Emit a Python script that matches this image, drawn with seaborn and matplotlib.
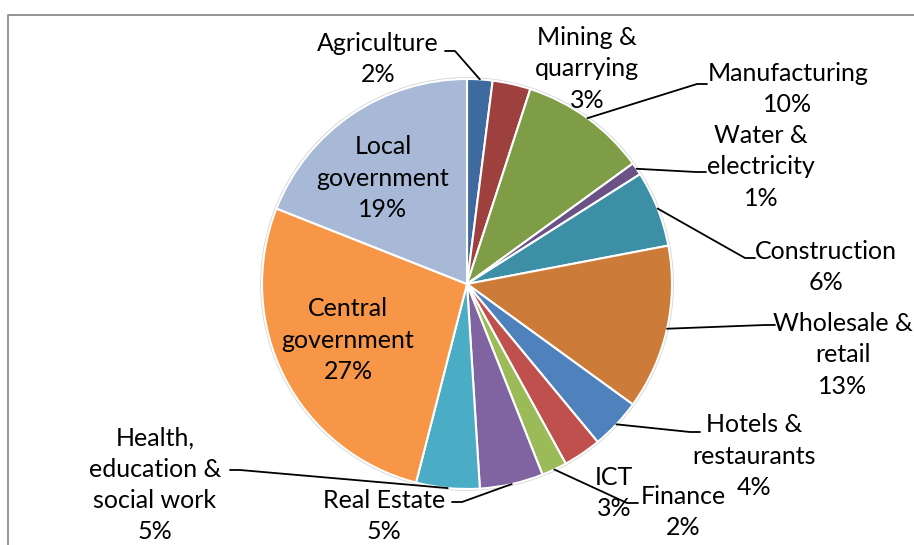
import matplotlib
matplotlib.use("Agg")
import numpy as np
import matplotlib.pyplot as plt
import seaborn as sns
from matplotlib.lines import Line2D

# Share of employment by sector (%), clockwise from 12 o'clock
sectors = [
    "Agriculture", "Mining &\nquarrying", "Manufacturing", "Water &\nelectricity",
    "Construction", "Wholesale &\nretail", "Hotels &\nrestaurants", "ICT",
    "Finance", "Real Estate", "Health,\neducation &\nsocial work",
    "Central\ngovernment", "Local\ngovernment",
]
shares = [2, 3, 10, 1, 6, 13, 4, 3, 2, 5, 5, 27, 19]
colors = [
    "#3E6A9F", "#9E413E", "#7F9D47", "#6A5287", "#3D8FA6", "#CD7B38",
    "#4F81BD", "#C0504D", "#9BBB59", "#8064A2", "#4BACC6", "#F79646", "#A8B9D7",
]

sns.set_theme(style="white")
plt.rcParams["font.family"] = ["Lato", "DejaVu Sans"]

W, H = 914, 545
fig = plt.figure(figsize=(W / 100, H / 100), dpi=100)
ax = fig.add_axes([0, 0, 1, 1])

CX, CY, R = 467, 284, 205


def pt(x, y):
    """Pixel position measured from the top-left corner -> data coordinates."""
    return x, H - y


wedges, _ = ax.pie(
    shares, colors=colors, startangle=90, counterclock=False,
    center=pt(CX, CY), radius=R, frame=True,
    wedgeprops=dict(edgecolor="white", linewidth=1.5),
)
ax.add_patch(plt.Circle(pt(CX, CY), R + 1, fill=False, edgecolor="#d4d4d4", lw=1.2, zorder=0))
ax.set_xlim(0, W)
ax.set_ylim(0, H)
ax.set_aspect("equal")
ax.axis("off")

# label block centres and the leader-line elbow (text end, bend point)
label_pos = [
    (378, 59), (587, 69), (788, 89), (761, 167), (826, 267), (843, 355),
    (754, 456), (614, 493), (683, 512), (384, 516), (155, 485),
    (348, 340), (383, 178),
]
leaders = {
    0: [(445, 51), (455, 51)],
    2: [(707, 84), (697, 84)],
    3: [(706, 172), (696, 172)],
    4: [(755, 258), (745, 258)],
    5: [(775, 325), (765, 325)],
    6: [(700, 432), (690, 432)],
    8: [(638, 503), (627, 503)],
    9: [(452, 502), (462, 502)],
    10: [(230, 470), (240, 470)],
}

for i, (w, name, v) in enumerate(zip(wedges, sectors, shares)):
    x, y = label_pos[i]
    ax.text(*pt(x, y), f"{name}\n{v}%", ha="center", va="center",
            fontsize=18, color="#000000", linespacing=1.43, zorder=5)
    if i in leaders:
        mid = np.deg2rad((w.theta1 + w.theta2) / 2)
        ex = w.center[0] + w.r * np.cos(mid)
        ey = w.center[1] + w.r * np.sin(mid)
        (x0, y0), (x1, y1) = leaders[i]
        X0, Y0 = pt(x0, y0)
        X1, Y1 = pt(x1, y1)
        ax.add_line(Line2D([X0, X1, ex], [Y0, Y1, ey], color="black", lw=1.3, zorder=4))

# chart area border (top and left edges)
ax.add_line(Line2D([8, 8, W], [0, H - 15, H - 15], color="#8c8c8c", lw=1.3))

fig.savefig("out.png", dpi=100)
